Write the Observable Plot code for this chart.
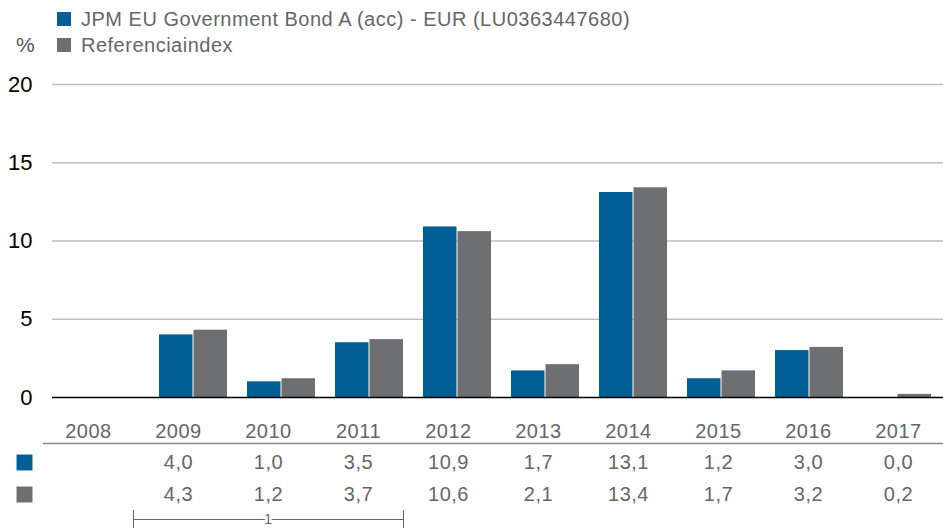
<!DOCTYPE html>
<html>
<head>
<meta charset="utf-8">
<script src="https://cdn.jsdelivr.net/npm/d3@7"></script>
<script src="https://cdn.jsdelivr.net/npm/@observablehq/plot@0.6"></script>
<style>
  html, body { margin: 0; padding: 0; background: #fff; }
  body { width: 943px; height: 529px; position: relative; overflow: hidden; font-family: "Liberation Sans", Arial, sans-serif; }
  .sw { position: absolute; width: 14px; height: 14px; }
  .lg { position: absolute; font-size: 20px; letter-spacing: 0.5px; color: #666; line-height: 20px; white-space: nowrap; }
  #chart { position: absolute; left: 0; top: 60px; }
  #table { position: absolute; left: 0; top: 405px; }
</style>
</head>
<body>
<div class="sw" style="left:57px; top:12px; background:#006096"></div>
<div class="lg" style="left:81px; top:9px">JPM EU Government Bond A (acc) - EUR (LU0363447680)</div>
<div class="lg" style="left:16px; top:35px; font-size:21px; letter-spacing:0; color:#555">%</div>
<div class="sw" style="left:57px; top:38px; background:#6e6f71"></div>
<div class="lg" style="left:81px; top:35px">Referenciaindex</div>
<div id="chart"></div>
<div id="table"></div>
<script>
const years = [2008, 2009, 2010, 2011, 2012, 2013, 2014, 2015, 2016, 2017];
const fundValues = [null, 4.0, 1.0, 3.5, 10.9, 1.7, 13.1, 1.2, 3.0, 0.0];
const indexValues = [null, 4.3, 1.2, 3.7, 10.6, 2.1, 13.4, 1.7, 3.2, 0.2];
const seriesNames = ["JPM EU Government Bond A (acc) - EUR (LU0363447680)", "Referenciaindex"];
const seriesColors = ["#006096", "#6e6f71"];
const yTicks = [0, 5, 10, 15, 20];
const bracketYears = [2009, 2011];
const bracketLabel = "1";

const fundData = years.map((y, i) => ({year: y, value: fundValues[i]}));
const indexData = years.map((y, i) => ({year: y, value: indexValues[i]}));
const fmt = v => v == null ? "" : v.toFixed(1).replace(".", ",");

const chart = Plot.plot({
  width: 943,
  height: 345,
  marginLeft: 59,
  marginRight: 0,
  marginTop: 24,
  marginBottom: 8,
  style: {fontFamily: "Liberation Sans, Arial, sans-serif", fontSize: "22px", color: "#000", background: "transparent", overflow: "visible"},
  x: {type: "band", domain: years, paddingInner: 0.23, paddingOuter: 0.115, axis: null},
  y: {domain: [0, 20], ticks: yTicks, tickSize: 0, tickPadding: 27, label: null},
  marks: [
    Plot.ruleY(yTicks.filter(d => d > 0), {stroke: "#bdbdbd", strokeWidth: 1.6, insetLeft: -7}),
    Plot.barY(fundData.filter(d => d.value != null), {x: "year", y: "value", fill: seriesColors[0], insetRight: 34.5}),
    Plot.barY(indexData.filter(d => d.value != null), {x: "year", y: "value", fill: seriesColors[1], insetLeft: 34.5}),
    Plot.ruleY([0], {stroke: "#000", strokeWidth: 1.6, insetLeft: -7})
  ]
});
document.getElementById("chart").appendChild(chart);

const rows = ["fund", "index", "bracket"];
const cellData = [];
years.forEach((y, i) => {
  cellData.push({year: y, row: "fund", text: fmt(fundValues[i])});
  cellData.push({year: y, row: "index", text: fmt(indexValues[i])});
});
const markerData = [{row: "fund", color: seriesColors[0]}, {row: "index", color: seriesColors[1]}];
const bracket = [{x1: bracketYears[0] - 0.5, x2: bracketYears[1] + 0.5, mid: (bracketYears[0] + bracketYears[1]) / 2, row: "bracket", label: bracketLabel}];

const table = Plot.plot({
  width: 943,
  height: 124,
  marginLeft: 43,
  marginRight: 0,
  marginTop: 38,
  marginBottom: 0,
  style: {fontFamily: "Liberation Sans, Arial, sans-serif", fontSize: "20px", letterSpacing: "0.5px", color: "#666", background: "transparent", overflow: "visible"},
  x: {domain: [years[0] - 0.5, years[years.length - 1] + 0.5], axis: "top", ticks: years, tickFormat: d => String(d), tickSize: 0, tickPadding: 6, label: null},
  y: {type: "point", domain: rows, range: [57, 121], padding: 0, axis: null},
  marks: [
    Plot.frame({anchor: "top", stroke: "#888", strokeWidth: 1.3}),
    Plot.text(cellData, {x: "year", y: "row", text: "text", fill: "#666"}),
    Plot.dot(markerData, {y: "row", frameAnchor: "left", dx: -19, symbol: "square", r: 9, fill: "color", stroke: null}),
    Plot.ruleY(bracket, {x1: "x1", x2: "x2", y: "row", dy: -7, stroke: "#666", strokeWidth: 1}),
    Plot.ruleX(bracket, {x: "x1", y1: "row", y2: "row", dy: -7, strokeWidth: 1, stroke: "#666", insetTop: -9, insetBottom: -9}),
    Plot.ruleX(bracket, {x: "x2", y1: "row", y2: "row", dy: -7, strokeWidth: 1, stroke: "#666", insetTop: -9, insetBottom: -9}),
    Plot.text(bracket, {x: "mid", y: "row", dy: -7, text: "label", fontSize: 14, letterSpacing: 0, fill: "#666", stroke: "#fff", strokeWidth: 5, paintOrder: "stroke"})
  ]
});
document.getElementById("table").appendChild(table);
</script>
</body>
</html>
